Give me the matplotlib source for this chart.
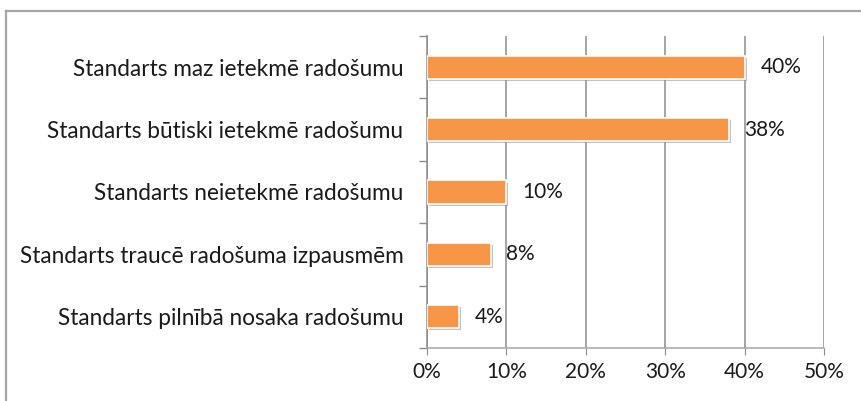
import matplotlib
matplotlib.use("Agg")
import matplotlib.pyplot as plt
import matplotlib.patheffects as pe
from matplotlib.lines import Line2D

# dati (no augšas uz leju)
categories = [
    "Standarts maz ietekmē radošumu",
    "Standarts būtiski ietekmē radošumu",
    "Standarts neietekmē radošumu",
    "Standarts traucē radošuma izpausmēm",
    "Standarts pilnībā nosaka radošumu",
]
values = [40, 38, 10, 8, 4]
x_ticks = [0, 10, 20, 30, 40, 50]
x_tick_labels = ["0%", "10%", "20%", "30%", "40%", "50%"]

plt.rcParams["font.family"] = ["Lato", "DejaVu Sans"]
BAR_COLOR = "#F79646"
GRID_COLOR = "#8C8C8C"
TEXT_COLOR = "#1A1A1A"

fig = plt.figure(figsize=(8.62, 4.01), dpi=100)
ax = fig.add_axes([427 / 862, 1 - 348 / 401, 397 / 862, 312 / 401])

# ārējais rāmis (kreisā un augšējā mala)
fig.add_artist(Line2D([6 / 862, 6 / 862], [0, 1 - 11 / 401], transform=fig.transFigure,
                      color="#A6A6A6", lw=1.6))
fig.add_artist(Line2D([6 / 862, 1], [1 - 11 / 401, 1 - 11 / 401], transform=fig.transFigure,
                      color="#A6A6A6", lw=1.6))

pos = list(range(len(categories)))[::-1]
bars = ax.barh(pos, values, height=0.37, color=BAR_COLOR, edgecolor="white", linewidth=1.2,
               zorder=3)
for b in bars:
    b.set_path_effects([pe.SimplePatchShadow(offset=(1.5, -1.5), shadow_rgbFace="#9A9A9A", alpha=0.6),
                        pe.Normal()])

for p, v in zip(pos, values):
    ax.text(v + 2.0, p, f"{v}%", va="center", ha="left", fontsize=15, color=TEXT_COLOR, zorder=4)

ax.set_xlim(0, 50)
ax.set_ylim(-0.5, len(categories) - 0.5)
ax.set_xticks(x_ticks)
ax.set_xticklabels(x_tick_labels, fontsize=15, color=TEXT_COLOR)
ax.set_yticks(pos)
ax.set_yticklabels(categories, fontsize=16.3, color=TEXT_COLOR)
ax.tick_params(axis="y", length=0, pad=17)
ax.tick_params(axis="x", length=5, color=GRID_COLOR, pad=5)

# kategoriju robežu ērces
ax.set_yticks([i - 0.5 for i in range(len(categories) + 1)], minor=True)
ax.tick_params(axis="y", which="minor", length=6, color=GRID_COLOR, width=1)

ax.grid(axis="x", color=GRID_COLOR, lw=1.1, zorder=0)
for s in ["top", "right"]:
    ax.spines[s].set_visible(False)
ax.spines["left"].set_color(GRID_COLOR)
ax.spines["bottom"].set_color("#A6A6A6")
ax.spines["left"].set_linewidth(1.1)
ax.spines["bottom"].set_linewidth(1.1)

fig.savefig("out.png", dpi=100)
